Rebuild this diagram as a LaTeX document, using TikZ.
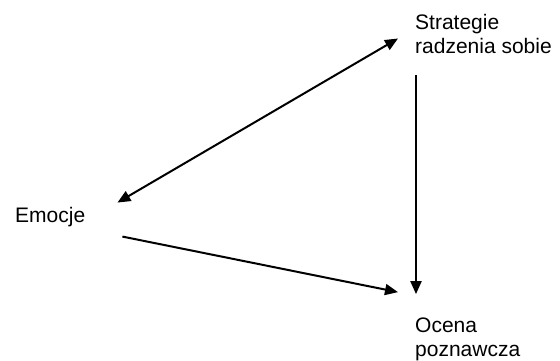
\documentclass[tikz,border=0pt]{standalone}
\usepackage{fontspec}
\setmainfont{Liberation Sans}
\usetikzlibrary{arrows.meta}
\tikzset{
  pojecie/.style={inner sep=0pt, align=left, anchor=base west, font=\fontsize{21}{24}\selectfont},
  strz/.style={-{Triangle[length=13pt,width=11pt]}, line width=2pt},
  strzdwa/.style={{Triangle[length=13pt,width=11pt]}-{Triangle[length=13pt,width=11pt]}, line width=2pt},
}
\begin{document}
\begin{tikzpicture}[x=1pt,y=-1pt]
\useasboundingbox (0,0) rectangle (560,360);
\node[pojecie] (strat) at (415,53) {Strategie\\radzenia sobie};
\node[pojecie] (emo) at (15,222) {Emocje};
\node[pojecie] (ocena) at (415,356) {Ocena\\poznawcza};
\draw[strzdwa] ([shift={(32,-14)}]emo.east) -- ([shift={(-17,5)}]strat.west);
\draw[strz] ([shift={(37,20)}]emo.east) -- ([shift={(-17,-25)}]ocena.north west);
\draw[strz] ([shift={(1,22)}]strat.south west) -- ([shift={(1,-23)}]ocena.north west);
\end{tikzpicture}
\end{document}
